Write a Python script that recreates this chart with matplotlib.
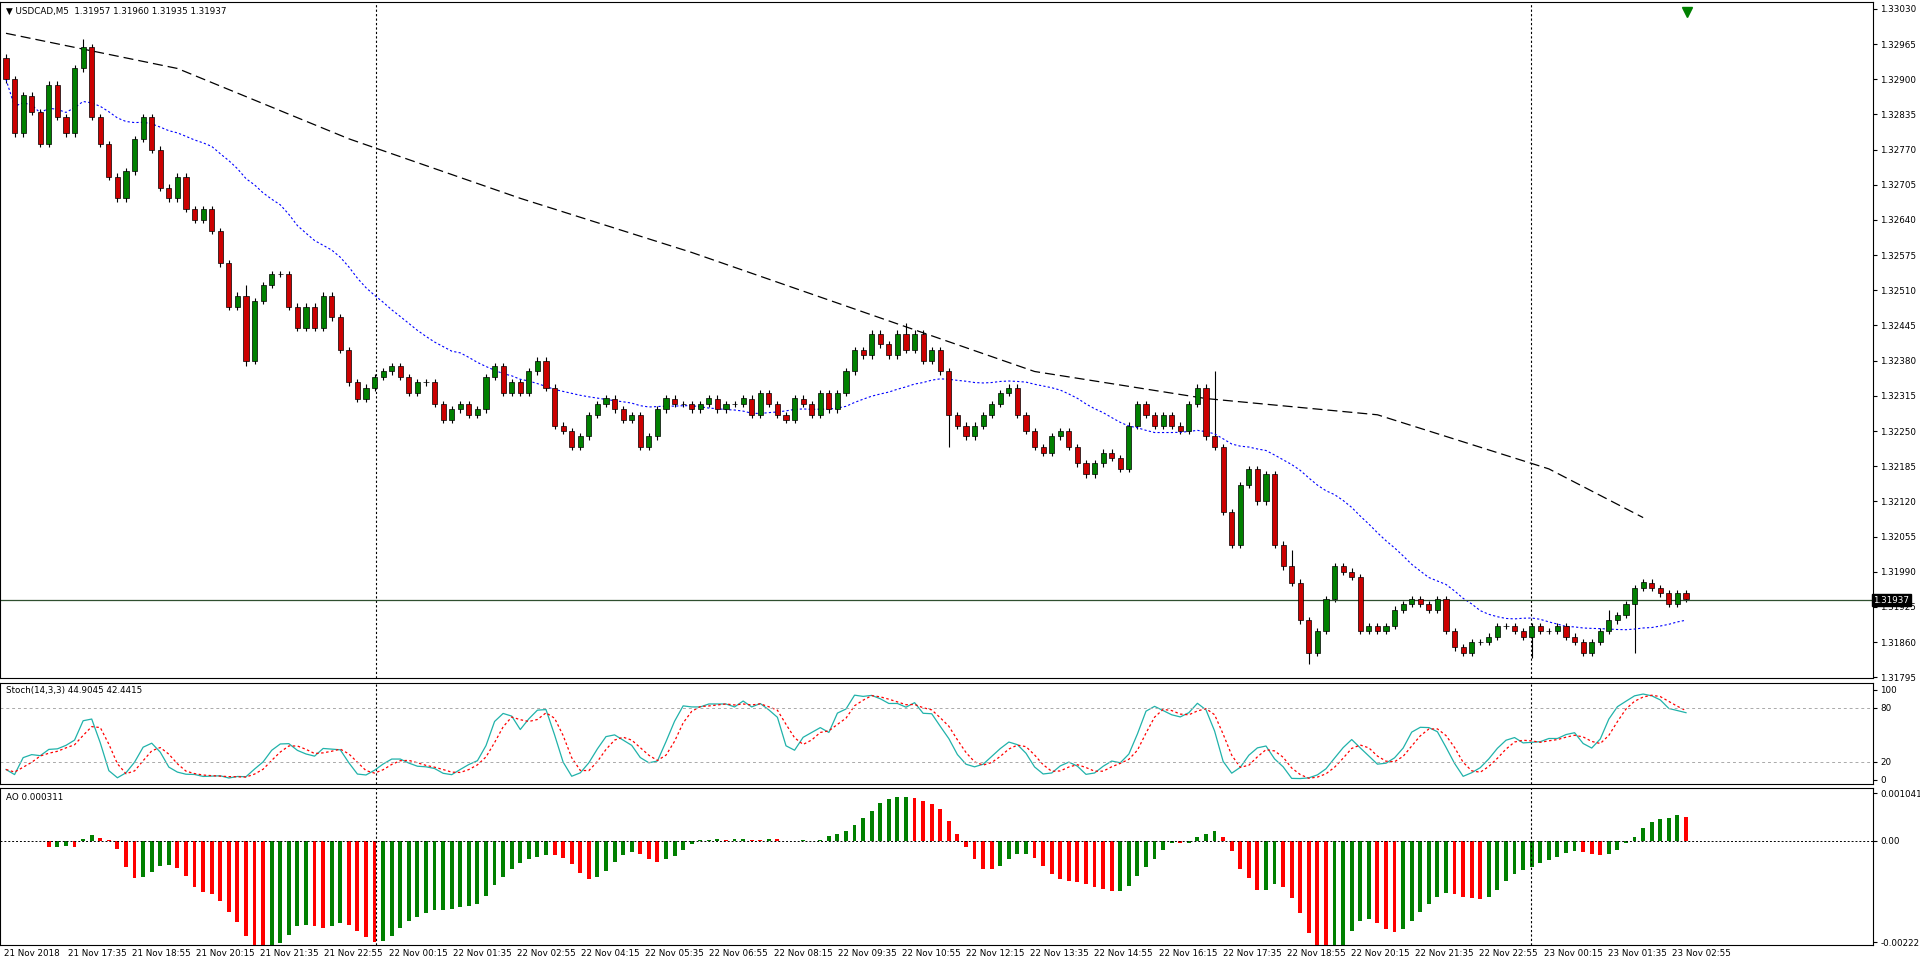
import numpy as np
import matplotlib

matplotlib.use("Agg")
import matplotlib.pyplot as plt

# USDCAD closes (one value per ~7 px)
closes = [
    1.3290, 1.3280, 1.3287, 1.3284, 1.3278, 1.3289, 1.3283, 1.3280, 1.3292, 1.3296,
    1.3283, 1.3278, 1.3272, 1.3268, 1.3273, 1.3279, 1.3283, 1.3277, 1.3270, 1.3268,
    1.3272, 1.3266, 1.3264, 1.3266, 1.3262, 1.3256, 1.3248, 1.3250, 1.3238, 1.3249,
    1.3252, 1.3254, 1.3254, 1.3248, 1.3244, 1.3248, 1.3244, 1.3250, 1.3246, 1.3240,
    1.3234, 1.3231, 1.3233, 1.3235, 1.3236, 1.3237, 1.3235, 1.3232, 1.3234, 1.3234,
    1.3230, 1.3227, 1.3229, 1.3230, 1.3228, 1.3229, 1.3235, 1.3237, 1.3232, 1.3234,
    1.3232, 1.3236, 1.3238, 1.3233, 1.3226, 1.3225, 1.3222, 1.3224, 1.3228, 1.3230,
    1.3231, 1.3229, 1.3227, 1.3228, 1.3222, 1.3224, 1.3229, 1.3231, 1.3230, 1.3230,
    1.3229, 1.3230, 1.3231, 1.3229, 1.3230, 1.3230, 1.3231, 1.3228, 1.3232, 1.3230,
    1.3228, 1.3227, 1.3231, 1.3230, 1.3228, 1.3232, 1.3229, 1.3232, 1.3236, 1.3240,
    1.3239, 1.3243, 1.3241, 1.3239, 1.3243, 1.3240, 1.3243, 1.3238, 1.3240, 1.3236,
    1.3228, 1.3226, 1.3224, 1.3226, 1.3228, 1.3230, 1.3232, 1.3233, 1.3228, 1.3225,
    1.3222, 1.3221, 1.3224, 1.3225, 1.3222, 1.3219, 1.3217, 1.3219, 1.3221, 1.3220,
    1.3218, 1.3226, 1.3230, 1.3228, 1.3226, 1.3228, 1.3226, 1.3225, 1.3230, 1.3233,
    1.3224, 1.3222, 1.3210, 1.3204, 1.3215, 1.3218, 1.3212, 1.3217, 1.3204, 1.3200,
    1.3197, 1.3190, 1.3184, 1.3188, 1.3194, 1.3200, 1.3199, 1.3198, 1.3188, 1.3189,
    1.3188, 1.3189, 1.3192, 1.3193, 1.3194, 1.3193, 1.3192, 1.3194, 1.3188, 1.3185,
    1.3184, 1.3186, 1.3186, 1.3187, 1.3189, 1.3189, 1.3188, 1.3187, 1.3189, 1.3188,
    1.3188, 1.3189, 1.3187, 1.3186, 1.3184, 1.3186, 1.3188, 1.3190, 1.3191, 1.3193,
    1.3196, 1.3197, 1.3196, 1.3195, 1.3193, 1.3195, 1.3194,
]
first_open = 1.3294
# notable wick extremes (bar index -> price)
spike_highs = {9: 1.32975, 28: 1.3252, 105: 1.3245, 141: 1.3236, 150: 1.3203, 187: 1.3192}
spike_lows = {28: 1.3237, 110: 1.3222, 152: 1.3182, 178: 1.3183, 190: 1.3184}
# slow (long period) MA
slow_ma_idx = [0, 20, 40, 60, 80, 100, 120, 140, 160, 180, 191]
slow_ma_val = [1.32985, 1.3292, 1.3279, 1.3268, 1.3258, 1.3247, 1.3236, 1.3231, 1.3228, 1.3218, 1.3209]

price_ticks = [1.33030, 1.32965, 1.32900, 1.32835, 1.32770, 1.32705, 1.32640, 1.32575, 1.32510,
               1.32445, 1.32380, 1.32315, 1.32250, 1.32185, 1.32120, 1.32055, 1.31990, 1.31925, 1.31860, 1.31795]
time_labels = ["21 Nov 2018", "21 Nov 17:35", "21 Nov 18:55", "21 Nov 20:15", "21 Nov 21:35", "21 Nov 22:55",
               "22 Nov 00:15", "22 Nov 01:35", "22 Nov 02:55", "22 Nov 04:15", "22 Nov 05:35", "22 Nov 06:55",
               "22 Nov 08:15", "22 Nov 09:35", "22 Nov 10:55", "22 Nov 12:15", "22 Nov 13:35", "22 Nov 14:55",
               "22 Nov 16:15", "22 Nov 17:35", "22 Nov 18:55", "22 Nov 20:15", "22 Nov 21:35", "22 Nov 22:55",
               "23 Nov 00:15", "23 Nov 01:35", "23 Nov 02:55"]

c = np.array(closes)
n = len(c)
o = np.r_[first_open, c[:-1]]
wick = 0.00006
h = np.maximum(o, c) + wick
l = np.minimum(o, c) - wick
for k, v in spike_highs.items():
    h[k] = max(h[k], v)
for k, v in spike_lows.items():
    l[k] = min(l[k], v)
x = np.arange(n) + 0.7

# indicators
fast_ma = np.array([c[max(0, i - 24):i + 1].mean() for i in range(n)])
hh = np.array([h[max(0, i - 13):i + 1].max() for i in range(n)])
ll = np.array([l[max(0, i - 13):i + 1].min() for i in range(n)])
num = np.array([(c - ll)[max(0, i - 2):i + 1].sum() for i in range(n)])
den = np.array([(hh - ll)[max(0, i - 2):i + 1].sum() for i in range(n)])
k_line = 100 * num / np.maximum(den, 1e-9)
d_line = np.array([k_line[max(0, i - 2):i + 1].mean() for i in range(n)])
med = (h + l) / 2
ao = np.array([med[max(0, i - 4):i + 1].mean() - med[max(0, i - 33):i + 1].mean() for i in range(n)])

W, H = 1568, 789
fig = plt.figure(figsize=(19.2, 9.67), dpi=100)
plt.rcParams["font.family"] = ["DejaVu Sans"]
fs = 6.3
xmax = 1530 / 7


def mkax(top, bot):
    return fig.add_axes([0.0, 1 - bot / H, 1530 / W, (bot - top) / H])


ax = mkax(2, 553)
ax2 = mkax(557, 640)
ax3 = mkax(643, 771)
for a in (ax, ax2, ax3):
    a.set_xlim(0, xmax)
    a.set_xticks([])
    a.yaxis.tick_right()
    a.tick_params(axis="y", labelsize=fs, length=3, pad=2)
    for s in a.spines.values():
        s.set_color("black")
        s.set_linewidth(0.8)
    for px in (307, 1250):
        a.axvline(px / 7, color="black", ls=(0, (2, 2)), lw=0.8)

# candles
up = c >= o
ax.vlines(x, l, h, color="black", lw=0.8, zorder=2)
ax.bar(x[up], (c - o)[up] + 1e-6, bottom=o[up], width=0.6, color="#008000", edgecolor="black", lw=0.5, zorder=3)
ax.bar(x[~up], (o - c)[~up], bottom=c[~up], width=0.6, color="#cc0000", edgecolor="black", lw=0.5, zorder=3)
ax.plot(x, fast_ma, color="blue", ls=(0, (2, 2)), lw=0.8)
ax.plot(np.array(slow_ma_idx) + 0.7, slow_ma_val, color="black", ls=(0, (8, 4)), lw=0.9)
ax.axhline(1.31937, color="#2f4f2f", lw=0.9)
ax.set_ylim(1.31795 - 0.00001, 1.33030 + 0.00012)
ax.set_yticks(price_ticks)
ax.set_yticklabels([f"{v:.5f}" for v in price_ticks])
ax.text(1.0, 1.31937, "1.31937", transform=ax.get_yaxis_transform(), fontsize=fs, color="white",
        va="center", ha="left", bbox=dict(fc="black", ec="black", pad=1))
ax.text(0.003, 0.993, "\u25bc USDCAD,M5  1.31957 1.31960 1.31935 1.31937", transform=ax.transAxes,
        fontsize=fs, va="top")
ax.plot([1378 / 7], [1.33025], marker="v", color="green", ms=7, clip_on=False)

# stochastic
ax2.plot(x, k_line, color="lightseagreen", lw=0.9)
ax2.plot(x, d_line, color="red", ls=(0, (2, 2)), lw=0.9)
for lv in (80, 20):
    ax2.axhline(lv, color="#aaaaaa", ls=(0, (3, 3)), lw=0.7)
ax2.set_ylim(-5, 108)
ax2.set_yticks([100, 80, 20, 0])
ax2.text(0.003, 0.97, "Stoch(14,3,3) 44.9045 42.4415", transform=ax2.transAxes, fontsize=fs, va="top")

# awesome oscillator
diff = np.r_[0, np.diff(ao)]
ax3.bar(x, ao, width=0.45, color=np.where(diff >= 0, "green", "red"))
ax3.axhline(0, color="black", ls=(0, (2, 2)), lw=0.7)
ax3.set_ylim(-0.00228, 0.00115)
ax3.set_yticks([0.001041, 0.0, -0.00222])
ax3.set_yticklabels(["0.001041", "0.00", "-0.00222"])
ax3.text(0.003, 0.97, "AO 0.000311", transform=ax3.transAxes, fontsize=fs, va="top")

for i, t in enumerate(time_labels):
    px = 3 + i * 52.4
    fig.text(px / W, 1 - 778 / H, t, fontsize=fs, va="center", ha="left")

fig.savefig("out.png", dpi=100)
